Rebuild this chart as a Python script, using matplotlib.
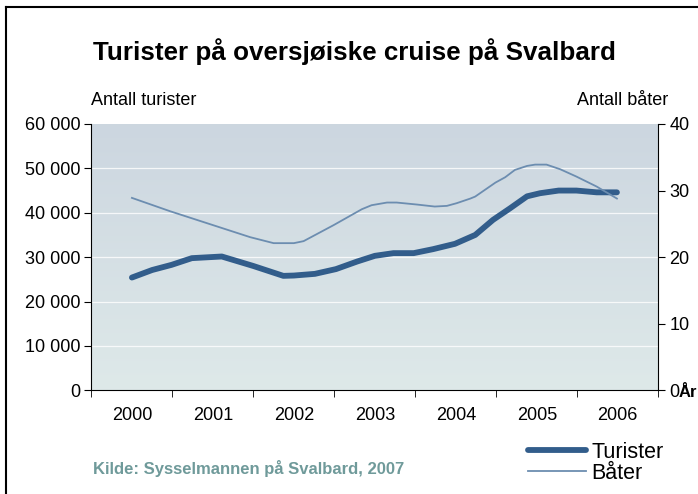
import numpy as np
import matplotlib.pyplot as plt
from matplotlib.lines import Line2D

plt.rcParams['font.family'] = ['Liberation Sans', 'DejaVu Sans']

years = ['2000', '2001', '2002', '2003', '2004', '2005', '2006']

# Turister (venstre akse)
turister_x = [2000.00, 2000.25, 2000.49, 2000.74, 2001.11, 2001.50, 2001.87, 2002.00,
              2002.26, 2002.52, 2002.78, 2003.00, 2003.23, 2003.48, 2003.72, 2003.99,
              2004.24, 2004.46, 2004.67, 2004.88, 2005.04, 2005.27, 2005.49, 2005.74, 2005.99]
turister = [25400, 27100, 28260, 29770, 30140, 28000, 25780, 25850,
            26230, 27300, 29000, 30290, 30900, 30900, 31800, 33000,
            35000, 38400, 41000, 43700, 44400, 45000, 45000, 44600, 44600]

# Båter (høyre akse)
baater_x = [2000.00, 2000.47, 2001.46, 2001.75, 2002.00, 2002.12, 2002.49, 2002.84, 2002.96,
            2003.15, 2003.27, 2003.52, 2003.74, 2003.89, 2004.01, 2004.18, 2004.24, 2004.49,
            2004.61, 2004.73, 2004.88, 2004.98, 2005.12, 2005.29, 2005.49, 2005.74, 2005.99]
baater = [28.9, 26.9, 23.0, 22.1, 22.1, 22.4, 24.8, 27.2, 27.8,
          28.2, 28.2, 27.9, 27.6, 27.7, 28.1, 28.8, 29.1, 31.2,
          32.0, 33.1, 33.7, 33.9, 33.9, 33.2, 32.1, 30.6, 28.8]

left_ticks = [0, 10000, 20000, 30000, 40000, 50000, 60000]
right_ticks = [0, 10, 20, 30, 40]

dark = '#325d8b'
light = '#6c8db0'

fig = plt.figure(figsize=(6.98, 4.94), dpi=100)
ax = fig.add_axes([0.131, 0.210, 0.812, 0.539])

# bakgrunnsgradient
grad = np.linspace(0, 1, 256).reshape(-1, 1)
top_c = np.array([0.800, 0.839, 0.878])
bot_c = np.array([0.871, 0.914, 0.914])
img = top_c + (bot_c - top_c) * grad
ax.imshow(img.reshape(256, 1, 3), extent=[0, 1, 0, 1], transform=ax.transAxes,
          aspect='auto', zorder=0, origin='upper')

ax.set_xlim(1999.5, 2006.5)
ax.set_ylim(0, 60000)
for v in left_ticks[1:-1]:
    ax.axhline(v, color='white', lw=0.9, alpha=0.8, zorder=1)

ax.plot(turister_x, turister, color=dark, lw=4.2, solid_capstyle='round',
        solid_joinstyle='round', zorder=3)

ax2 = ax.twinx()
ax2.set_ylim(0, 40)
ax2.plot(baater_x, baater, color=light, lw=1.3, zorder=3)

ax.set_yticks(left_ticks)
ax.set_yticklabels([f'{v:,}'.replace(',', ' ') for v in left_ticks], fontsize=13)
ax2.set_yticks(right_ticks)
ax2.set_yticklabels([str(v) for v in right_ticks], fontsize=13)

ax.set_xticks([2000 + i for i in range(7)])
ax.set_xticklabels(years, fontsize=13)
ax.set_xticks([1999.5 + i for i in range(8)], minor=True)
ax.tick_params(axis='x', which='major', length=0, pad=12)
ax.tick_params(axis='x', which='minor', length=5, direction='out')
ax.tick_params(axis='y', length=5, direction='out', pad=3)
ax2.tick_params(axis='y', length=5, direction='out', pad=3)

for a in (ax, ax2):
    a.spines['top'].set_visible(False)
ax.spines['right'].set_visible(False)
ax2.spines['left'].set_visible(False)
ax2.spines['bottom'].set_visible(False)

fig.text(0.508, 0.895, 'Turister på oversjøiske cruise på Svalbard', ha='center', va='center',
         fontsize=18.7, fontweight='bold')
fig.text(0.130, 0.797, 'Antall turister', ha='left', va='center', fontsize=13)
fig.text(0.957, 0.797, 'Antall båter', ha='right', va='center', fontsize=13)
fig.text(0.972, 0.205, 'År', ha='left', va='center', fontsize=12, fontweight='bold')
fig.text(0.133, 0.051, 'Kilde: Sysselmannen på Svalbard, 2007', ha='left', va='center',
         fontsize=12, fontweight='bold', color='#6f9a9a')

handles = [Line2D([], [], color=dark, lw=4.2, solid_capstyle='round'),
           Line2D([], [], color=light, lw=1.3)]
fig.legend(handles, ['Turister', 'Båter'], loc='center left', bbox_to_anchor=(0.756, 0.063),
           frameon=False, fontsize=15.5, handlelength=2.7, handletextpad=0.25, labelspacing=0.0,
           borderaxespad=0, borderpad=0)

# ramme
fig.add_artist(Line2D([0.009, 0.009], [0, 0.985], color='black', lw=1.5, transform=fig.transFigure))
fig.add_artist(Line2D([0.009, 1.0], [0.985, 0.985], color='black', lw=1.5, transform=fig.transFigure))

fig.savefig('out.png', dpi=100)
